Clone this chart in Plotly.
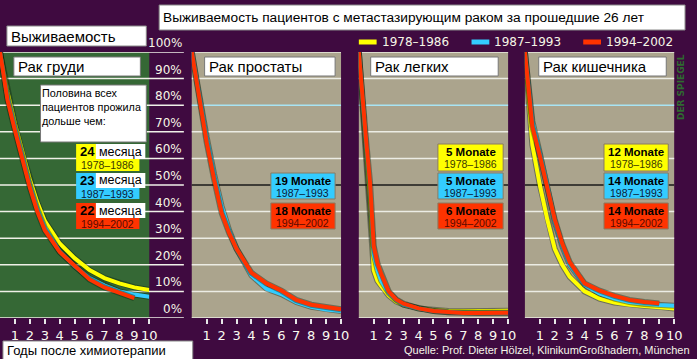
import plotly.graph_objects as go

W, H = 697, 359

# ---------------- data ----------------
SERIES = ["1978–1986", "1987–1993", "1994–2002"]
SERIES_COLORS = ["#FFFF00", "#33CCFF", "#FF3300"]

YEARS = [0, 0.5, 1, 1.5, 2, 2.5, 3, 4, 5, 6, 7, 8, 9, 10]
YEARS_LUNG = [0, 0.25, 0.5, 0.75, 1, 1.25, 1.5, 2, 2.5, 3, 4, 5, 6, 7, 8, 9, 10]

breast_1978_1986 = [100, 85, 73, 62, 52, 43.5, 36.5, 28, 22.5, 18, 15, 13, 11.5, 10.5]
breast_1987_1993 = [100, 83, 71.5, 60, 50, 41, 34, 25, 19.5, 15, 12.2, 10, 8.8, 8]
breast_1994_2002 = [100, 82, 70.5, 59, 49, 40, 33, 24.8, 19.5, 14.5, 11.5, 9.3, 7.5, None]

prostate_1987_1993 = [100, 83, 68, 54, 42, 33, 26, 16, 11, 9, 6, 4.2, 3.2, 2.6]
prostate_1994_2002 = [100, 82, 66, 52, 39.5, 32, 26, 17, 13, 10.3, 6.8, 5, 4.2, 3.3]

lung_1978_1986 = [100, 80, 64, 45, 18, 14, 12, 8.5, 6.2, 5, 3.6, 2.9, 2.6, 2.5, 2.5, 2.6, 2.7]
lung_1987_1993 = [100, 81, 65, 50, 24, 18, 14, 9.5, 6.8, 5, 3.6, 2.6, 2.2, 2, 2, 2, 2]
lung_1994_2002 = [100, 81, 66, 51, 27, 20.5, 16.5, 10, 7, 5.4, 3.6, 2.6, 2.2, 1.9, 1.9, 2, 2]

colon_1978_1986 = [100, 65, 50, 37, 26, 20, 15.5, 10, 7.3, 5.8, 5, 4.6, 4.2, 3.6]
colon_1987_1993 = [100, 74, 62, 50, 36, 27, 20, 12.5, 9.2, 7.3, 6, 5.3, 4.9, 4.6]
colon_1994_2002 = [100, 72, 61, 49, 37, 28, 21, 13, 10.3, 8.3, 6.8, 6, 5.5, None]

PANEL_NAMES = ["Рак груди", "Рак простаты", "Рак легких", "Рак кишечника"]
X_TICKS = [1, 2, 3, 4, 5, 6, 7, 8, 9, 10]
Y_TICKS = [0, 10, 20, 30, 40, 50, 60, 70, 80, 90, 100]
Y_LABELS = [f"{v}%" for v in Y_TICKS]

# median boxes: (panel index, series index, months text)
MEDIANS = [
    (0, 0, "24"), (0, 1, "23"), (0, 2, "22"),
    (1, 1, "19 Monate"), (1, 2, "18 Monate"),
    (2, 0, "5 Monate"), (2, 1, "5 Monate"), (2, 2, "6 Monate"),
    (3, 0, "12 Monate"), (3, 1, "14 Monate"), (3, 2, "14 Monate"),
]

PANEL_DATA = [
    (YEARS, [breast_1978_1986, breast_1987_1993, breast_1994_2002]),
    (YEARS, [None, prostate_1987_1993, prostate_1994_2002]),
    (YEARS_LUNG, [lung_1978_1986, lung_1987_1993, lung_1994_2002]),
    (YEARS, [colon_1978_1986, colon_1987_1993, colon_1994_2002]),
]

# ---------------- layout helpers ----------------
BG = "#3F0A40"
GREEN = "#356835"
TAN = "#ABA48D"
PANELS_PX = [(0, 151), (194, 345), (363, 514), (531, 682)]
Y_TOP, Y_BOT = 52, 318


def px(x):
    return x / W


def py(y):
    return 1 - y / H


fig = go.Figure()
shapes = []
annotations = []

# panel backgrounds
for i, (x0, x1) in enumerate(PANELS_PX):
    shapes.append(dict(type="rect", xref="paper", yref="paper", layer="below",
                       x0=px(x0), x1=px(x1), y0=py(Y_BOT), y1=py(Y_TOP),
                       fillcolor=GREEN if i == 0 else TAN, line=dict(width=0)))

# gridlines
for i, (x0, x1) in enumerate(PANELS_PX):
    for v in Y_TICKS:
        if i == 0:
            col = "#F0F0E8"
            xe = 186
        else:
            col = "#ECECE4"
            if v == 50:
                col = "#1A1A1A"
            elif v == 80:
                col = "#A8E4F4"
            xe = x1
        shapes.append(dict(type="line", xref="paper", yref="y", layer="below",
                           x0=px(x0), x1=px(xe), y0=v, y1=v,
                           line=dict(color=col, width=1.5)))

# y labels
for v, lab in zip(Y_TICKS, Y_LABELS):
    annotations.append(dict(x=px(186), y=v, xref="paper", yref="y", xanchor="right",
                            yanchor="middle", yshift=9, showarrow=False, text=lab,
                            font=dict(family="DejaVu Sans", size=12, color="#F6F6E6")))

# traces
for i, (yrs, series) in enumerate(PANEL_DATA):
    xa = "x" if i == 0 else f"x{i + 1}"
    for s, vals in enumerate(series):
        if vals is None:
            continue
        fig.add_trace(go.Scatter(x=yrs, y=vals, xaxis=xa, yaxis="y", mode="lines",
                                 line=dict(color="rgba(10,30,10,0.4)", width=6),
                                 hoverinfo="skip", showlegend=False))
        fig.add_trace(go.Scatter(x=yrs, y=vals, xaxis=xa, yaxis="y", mode="lines",
                                 name=SERIES[s],
                                 line=dict(color=SERIES_COLORS[s], width=4),
                                 showlegend=False))

# axes
axis_common = dict(range=[0, 10], showgrid=False, zeroline=False, showline=False,
                   tickmode="array", tickvals=X_TICKS, ticktext=[str(t) for t in X_TICKS],
                   ticks="outside", ticklen=5, tickwidth=1.5, tickcolor="#E8E8E8",
                   tickfont=dict(family="DejaVu Sans", size=13, color="#FAFAF0"),
                   anchor="y", fixedrange=True)
layout_axes = {}
for i, (x0, x1) in enumerate(PANELS_PX):
    key = "xaxis" if i == 0 else f"xaxis{i + 1}"
    layout_axes[key] = dict(domain=[px(x0), px(x1)], **axis_common)

# title box
shapes.append(dict(type="rect", xref="paper", yref="paper", x0=px(161), x1=px(693),
                   y0=py(30), y1=py(5), fillcolor="white", line=dict(color="#888", width=1)))
annotations.append(dict(x=px(163), y=py(17.5), xref="paper", yref="paper", xanchor="left",
                        yanchor="middle", showarrow=False,
                        text="Выживаемость пациентов с метастазирующим раком за прошедшие 26 лет",
                        font=dict(family="Liberation Sans", size=13.7, color="black")))

# y title box
shapes.append(dict(type="rect", xref="paper", yref="paper", x0=px(7), x1=px(148),
                   y0=py(46), y1=py(26), fillcolor="white", line=dict(color="#888", width=1)))
annotations.append(dict(x=px(9), y=py(36), xref="paper", yref="paper", xanchor="left",
                        yanchor="middle", showarrow=False, text="Выживаемость",
                        font=dict(family="Liberation Sans", size=15, color="black")))

# x title box
shapes.append(dict(type="rect", xref="paper", yref="paper", x0=px(3), x1=px(195),
                   y0=py(362), y1=py(341), fillcolor="white", line=dict(color="#888", width=1)))
annotations.append(dict(x=px(5), y=py(350), xref="paper", yref="paper", xanchor="left",
                        yanchor="middle", showarrow=False, text="Годы после химиотерапии",
                        font=dict(family="Liberation Sans", size=13, color="black")))

# source
annotations.append(dict(x=px(407), y=py(350), xref="paper", yref="paper", xanchor="left",
                        yanchor="middle", showarrow=False,
                        text="Quelle: Prof. Dieter Hölzel, KlinikumGroßhadern, München",
                        font=dict(family="Liberation Sans Narrow, Liberation Sans", size=11,
                                  color="#F4F4E8")))

# vertical credit
annotations.append(dict(x=px(689), y=py(87), xref="paper", yref="paper", xanchor="center",
                        yanchor="middle", showarrow=False, textangle=-90, text="<b>DER SPIEGEL</b>",
                        font=dict(family="DejaVu Sans", size=9, color="#2F6A30")))

# legend
LEG_X = [363, 477, 590]
for s, name in enumerate(SERIES):
    shapes.append(dict(type="line", xref="paper", yref="paper", x0=px(LEG_X[s]),
                       x1=px(LEG_X[s] + 18), y0=py(42), y1=py(42),
                       line=dict(color=SERIES_COLORS[s], width=5)))
    annotations.append(dict(x=px(LEG_X[s] + 21), y=py(42), xref="paper", yref="paper",
                            xanchor="left", yanchor="middle", showarrow=False, text=name,
                            font=dict(family="DejaVu Sans", size=12, color="#F6F6E6")))

# panel name boxes
NAME_BOX = [(14, 142), (207, 339), (375, 504), (545, 674)]
for i, name in enumerate(PANEL_NAMES):
    x0, x1 = NAME_BOX[i]
    shapes.append(dict(type="rect", xref="paper", yref="paper", x0=px(x0), x1=px(x1),
                       y0=py(76), y1=py(57), fillcolor="white", line=dict(color="#777", width=1)))
    annotations.append(dict(x=px(x0 + 2), y=py(66.5), xref="paper", yref="paper",
                            xanchor="left", yanchor="middle", showarrow=False, text=name,
                            font=dict(family="Liberation Sans", size=15, color="black")))

# breast note box
shapes.append(dict(type="rect", xref="paper", yref="paper", x0=px(41), x1=px(148),
                   y0=py(142), y1=py(85), fillcolor="white", line=dict(color="#777", width=1)))
annotations.append(dict(x=px(40), y=py(107), xref="paper", yref="paper", xanchor="left",
                        yanchor="middle", showarrow=False, align="left",
                        text="Половина всех<br>пациентов прожила<br>дольше чем:",
                        font=dict(family="Liberation Sans", size=10.8, color="black")))

# median boxes
ROW_Y = [(144, 171), (173, 199), (203, 229)]
BOX_X = {1: (274, 339), 2: (443, 509), 3: (611, 676)}
SUB_COLORS = ["#3A3A00", "#0A1A3A", "#5A0A00"]
for (p, s, txt) in MEDIANS:
    y0, y1 = ROW_Y[s]
    if p == 0:
        x0, x1 = 77, 141
        shapes.append(dict(type="rect", xref="paper", yref="paper", x0=px(x0), x1=px(x1),
                           y0=py(y1), y1=py(y0), fillcolor=SERIES_COLORS[s], line=dict(width=0)))
        shapes.append(dict(type="rect", xref="paper", yref="paper", x0=px(97), x1=px(147),
                           y0=py(y0 + 15), y1=py(y0), fillcolor="white", line=dict(width=0)))
        annotations.append(dict(x=px(79), y=py(y0 + 7.5), xref="paper", yref="paper",
                                xanchor="left", yanchor="middle", showarrow=False,
                                text=f"<b>{txt}</b>",
                                font=dict(family="Liberation Sans", size=13, color="black")))
        annotations.append(dict(x=px(98), y=py(y0 + 7.5), xref="paper", yref="paper",
                                xanchor="left", yanchor="middle", showarrow=False,
                                text="месяца",
                                font=dict(family="Liberation Sans", size=12.5, color="black")))
        annotations.append(dict(x=px(80), y=py(y0 + 20.5), xref="paper", yref="paper",
                                xanchor="left", yanchor="middle", showarrow=False,
                                text=SERIES[s],
                                font=dict(family="Liberation Sans", size=10.5, color=SUB_COLORS[s])))
    else:
        x0, x1 = BOX_X[p]
        shapes.append(dict(type="rect", xref="paper", yref="paper", x0=px(x0), x1=px(x1),
                           y0=py(y1), y1=py(y0), fillcolor=SERIES_COLORS[s],
                           line=dict(color="#8A7A60", width=1)))
        annotations.append(dict(x=px((x0 + x1) / 2), y=py(y0 + 8), xref="paper", yref="paper",
                                xanchor="center", yanchor="middle", showarrow=False,
                                text=f"<b>{txt}</b>",
                                font=dict(family="Liberation Sans", size=11.5, color="black")))
        annotations.append(dict(x=px((x0 + x1) / 2), y=py(y0 + 20), xref="paper", yref="paper",
                                xanchor="center", yanchor="middle", showarrow=False,
                                text=SERIES[s],
                                font=dict(family="Liberation Sans", size=10.5, color=SUB_COLORS[s])))

fig.update_layout(
    width=W, height=H, margin=dict(l=0, r=0, t=0, b=0),
    paper_bgcolor=BG, plot_bgcolor="rgba(0,0,0,0)",
    yaxis=dict(domain=[py(Y_BOT), py(Y_TOP)], range=[0, 100], showgrid=False,
               zeroline=False, showticklabels=False, showline=False, fixedrange=True),
    shapes=shapes, annotations=annotations, showlegend=False,
    **layout_axes,
)

fig.write_html("out.html", config={"displayModeBar": False},
               post_script="document.body.style.margin='0';document.body.style.background='" + BG + "';")
